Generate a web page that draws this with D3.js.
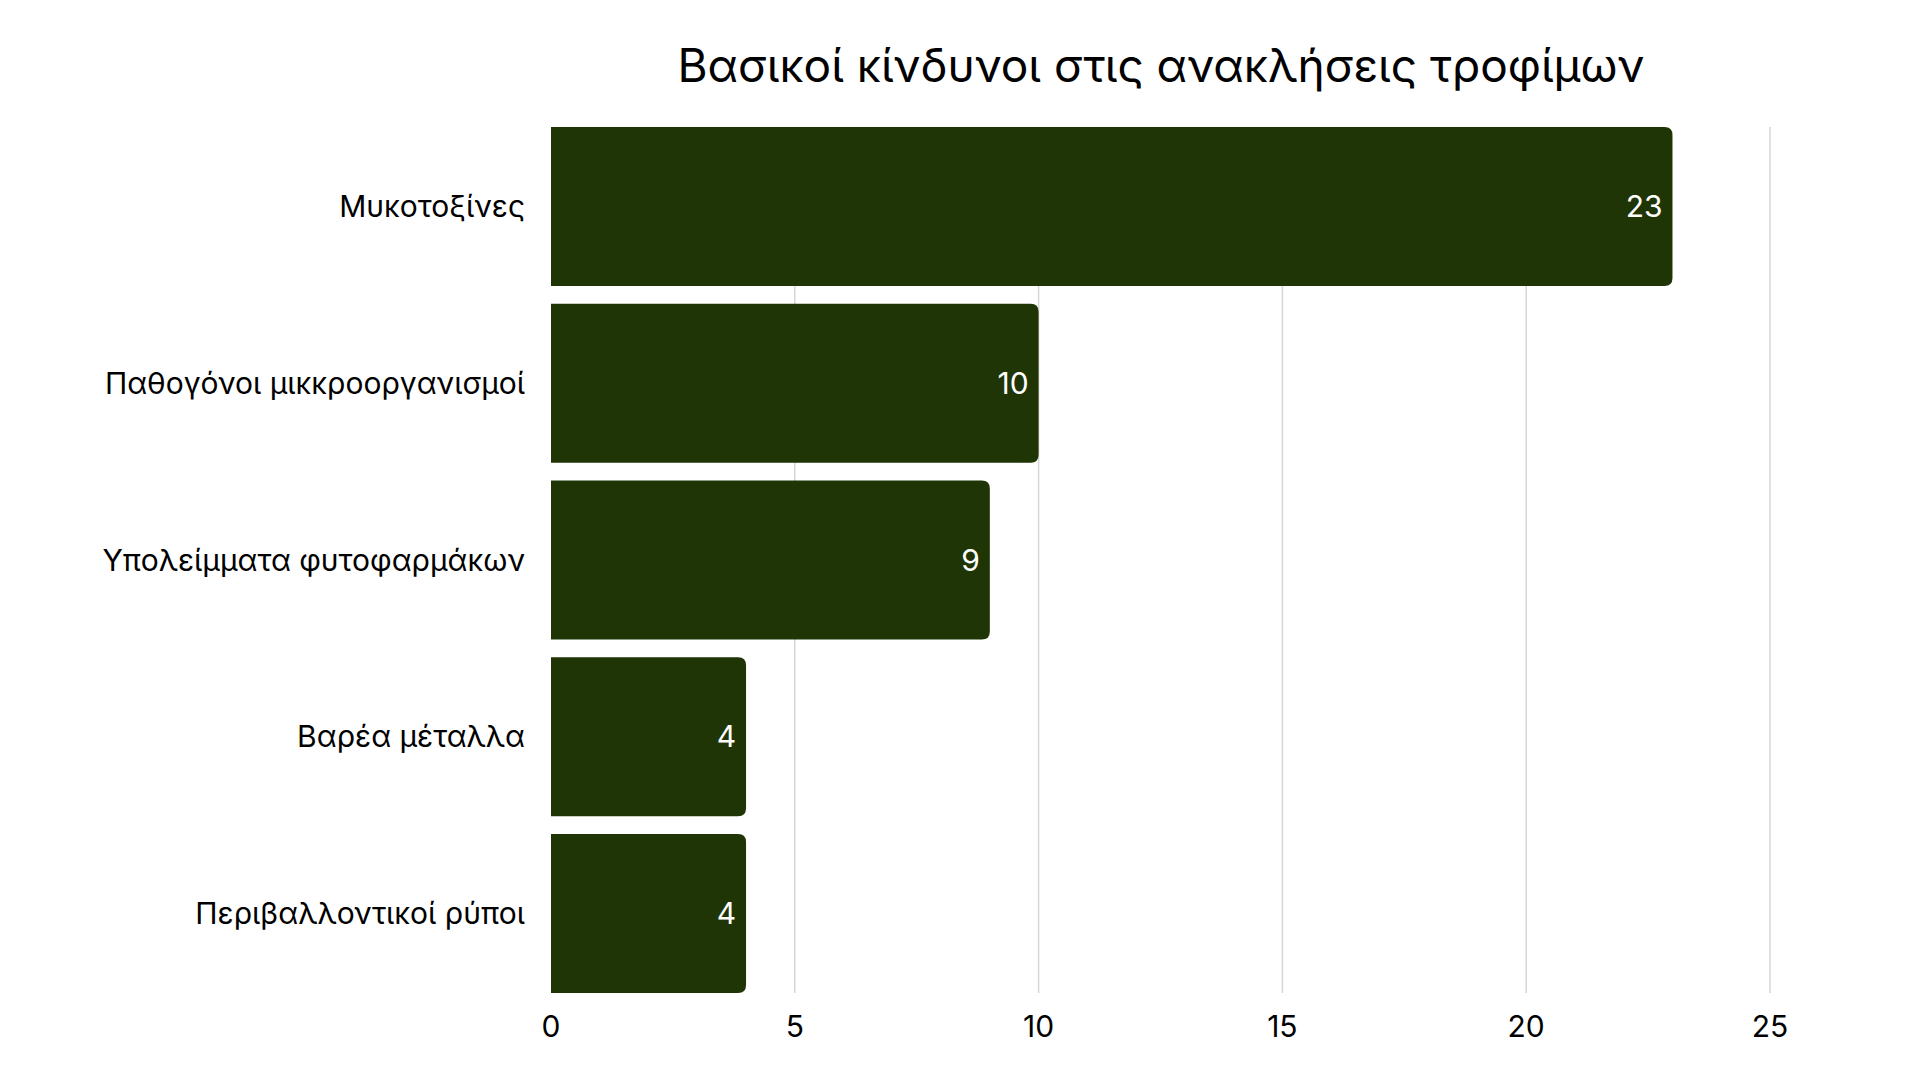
<!DOCTYPE html>
<html><head><meta charset="utf-8">
<script src="https://cdn.jsdelivr.net/npm/d3@7"></script>
<style>body{margin:0;background:#fff}svg{font-family:Inter,sans-serif}</style>
</head><body><svg id="c" width="1920" height="1080"></svg>
<script>
const categories=["Μυκοτοξίνες","Παθογόνοι μικκροοργανισμοί","Υπολείμματα φυτοφαρμάκων","Βαρέα μέταλλα","Περιβαλλοντικοί ρύποι"];
const values=[23,10,9,4,4];
const ticks=[0,5,10,15,20,25];
const title="Βασικοί κίνδυνοι στις ανακλήσεις τροφίμων";
const svg=d3.select("#c");
const x=d3.scaleLinear().domain([0,25]).range([551,1770]);
const y=d3.scaleBand().domain(categories).range([127,993]).paddingInner(0.1).paddingOuter(0);
svg.append("text").attr("x",1161).attr("y",82).attr("text-anchor","middle").attr("font-size",46).attr("fill","#000").text(title);
svg.append("g").selectAll("line").data(ticks.filter(t=>t>0)).join("line")
 .attr("x1",d=>x(d)).attr("x2",d=>x(d)).attr("y1",127).attr("y2",993).attr("stroke","#d6d6d6").attr("stroke-width",1.5);
const r=8;
svg.append("g").selectAll("path").data(values).join("path")
 .attr("fill","#1f3505")
 .attr("d",(d,i)=>{const x0=x(0),x1=x(d),y0=y(categories[i]),h=y.bandwidth();
  return `M${x0},${y0}H${x1-r}Q${x1},${y0} ${x1},${y0+r}V${y0+h-r}Q${x1},${y0+h} ${x1-r},${y0+h}H${x0}Z`;});
svg.append("g").selectAll("text").data(values).join("text")
 .attr("x",d=>x(d)-10).attr("y",(d,i)=>y(categories[i])+y.bandwidth()/2).attr("dy","0.35em")
 .attr("text-anchor","end").attr("font-size",30).attr("fill","#fff").text(d=>d);
svg.append("g").selectAll("text").data(categories).join("text")
 .attr("x",525).attr("y",d=>y(d)+y.bandwidth()/2).attr("dy","0.35em")
 .attr("text-anchor","end").attr("font-size",30).attr("fill","#000").text(d=>d);
svg.append("g").selectAll("text").data(ticks).join("text")
 .attr("x",d=>x(d)).attr("y",1026).attr("dy","0.35em")
 .attr("text-anchor","middle").attr("font-size",30).attr("fill","#000").text(d=>d);
</script></body></html>
